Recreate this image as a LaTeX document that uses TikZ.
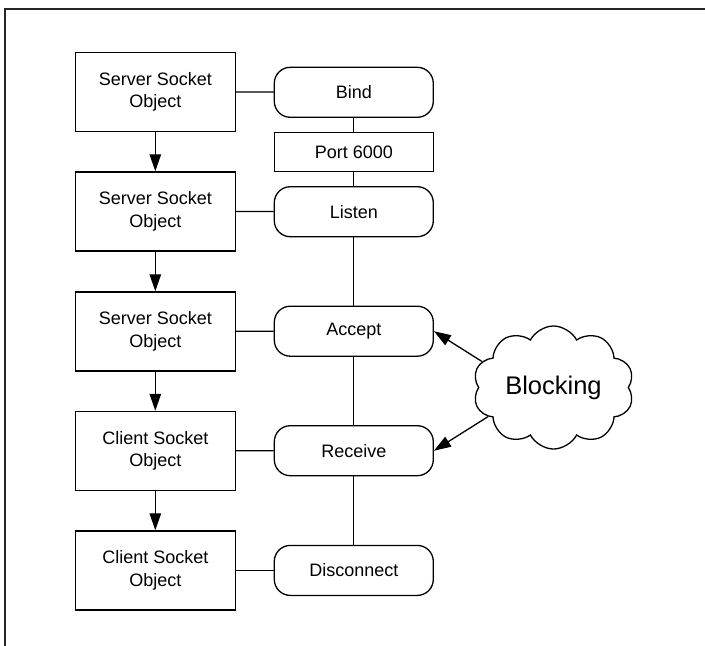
\documentclass[tikz,border=0pt]{standalone}
\usepackage{fontspec}
\setmainfont{Liberation Sans}
\usetikzlibrary{shapes.symbols,arrows.meta}
\begin{document}
\begin{tikzpicture}[x=1pt,y=-1pt,
  objbox/.style={draw,line width=1.3pt,minimum width=160pt,minimum height=79pt,inner sep=0pt,align=center,font=\fontsize{18}{22.5}\selectfont},
  stepbox/.style={draw,line width=1.3pt,rounded corners=16pt,minimum width=159pt,minimum height=50pt,inner sep=0pt,font=\fontsize{18}{22.5}\selectfont},
  portbox/.style={draw,line width=1.3pt,minimum width=159pt,minimum height=39.5pt,inner sep=0pt,font=\fontsize{18}{22.5}\selectfont},
  link/.style={line width=1.3pt},
  flow/.style={line width=1.3pt,-{Triangle[length=17pt,width=11.5pt]}}]
\useasboundingbox (0,0) rectangle (705,646);
\draw[line width=2pt,color=black!85] (4.5,646) -- (4.5,9) -- (705,9);
% left column
\node[objbox] (s1) at (155.3,91.8) {Server Socket\\Object};
\node[objbox] (s2) at (155.3,211.4) {Server Socket\\Object};
\node[objbox] (s3) at (155.3,331.4) {Server Socket\\Object};
\node[objbox] (c1) at (155.3,450.9) {Client Socket\\Object};
\node[objbox] (c2) at (155.3,570.4) {Client Socket\\Object};
% right column
\node[stepbox] (bind) at (353.8,92.3) {Bind};
\node[portbox] (port) at (353.8,152) {Port 6000};
\node[stepbox] (listen) at (353.8,211.7) {Listen};
\node[stepbox] (accept) at (353.8,331.2) {Accept};
\node[stepbox] (receive) at (353.8,450.7) {Receive};
\node[stepbox] (disc) at (353.8,570.4) {Disconnect};
% cloud
\node[cloud,draw,line width=1.3pt,cloud puffs=10,cloud puff arc=125,aspect=1.33,minimum width=161pt,minimum height=121pt,inner sep=0pt,font=\fontsize{25.5}{30}\selectfont] (cloud) at (553.5,387.5) {Blocking};
% flow arrows
\draw[flow] (s1) -- (s2);
\draw[flow] (s2) -- (s3);
\draw[flow] (s3) -- (c1);
\draw[flow] (c1) -- (c2);
% horizontal links
\draw[link] (s1) -- (bind);
\draw[link] (s2) -- (listen);
\draw[link] (s3) -- (accept);
\draw[link] (c1) -- (receive);
\draw[link] (c2) -- (disc);
% vertical chain
\draw[link] (bind) -- (port);
\draw[link] (port) -- (listen);
\draw[link] (listen) -- (accept);
\draw[link] (accept) -- (receive);
\draw[link] (receive) -- (disc);
% blocking arrows
\draw[flow] (cloud.160) -- (accept.east);
\draw[flow] (cloud.204) -- (receive.east);
\end{tikzpicture}
\end{document}
